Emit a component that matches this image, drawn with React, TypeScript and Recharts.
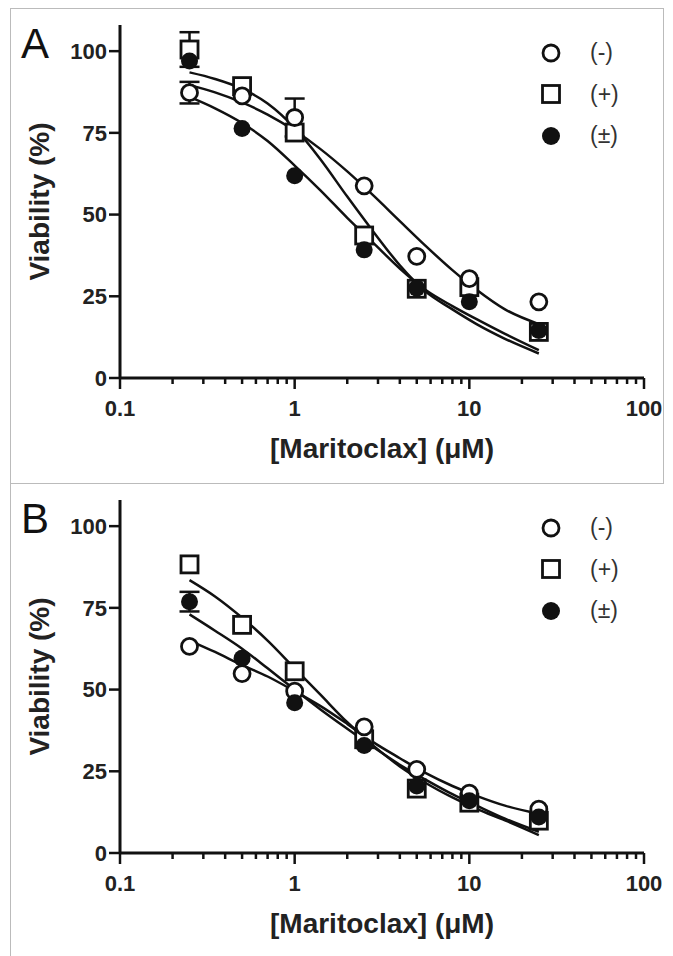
import React from 'react';
import { ComposedChart, Line, Scatter, XAxis, YAxis, ErrorBar } from 'recharts';

// doses (µM)
const doses = [0.25, 0.5, 1, 2.5, 5, 10, 25];

// panel A, measured viability (%)
const aMinus = [87.3, 86.3, 79.7, 58.8, 37.2, 30.4, 23.3];
const aPlus = [100.5, 89.3, 75.1, 43.6, 27.3, 27.8, 14.1];
const aPm = [97, 76.3, 61.9, 39.2, 27.5, 23.3, 14.5];
const aMinusErr = [3.3, 0, 5.8, 0, 0, 0, 0];
const aPlusErr = [5.3, 0, 0, 0, 0, 0, 0];
const aPmErr = [0, 0, 0, 0, 0, 0, 0];

// panel B, measured viability (%)
const bMinus = [63.2, 54.9, 49.5, 38.6, 25.6, 18.3, 13.4];
const bPlus = [88.3, 69.8, 55.6, 34.8, 19.7, 15.4, 9.9];
const bPm = [76.9, 59.6, 46, 32.9, 20.5, 16, 11];
const bMinusErr = [0, 0, 0, 0, 0, 0, 0];
const bPlusErr = [0, 0, 0, 0, 0, 0, 0];
const bPmErr = [3, 0, 0, 0, 0, 0, 0];

// fitted curves
const fitX = [0.25, 0.35, 0.5, 0.7, 1, 1.4, 2, 2.8, 4, 5.6, 8, 11, 16, 25];
const aMinusFit = [89.6, 87.4, 84.3, 80.6, 75.7, 70.1, 63.2, 56, 48, 40.5, 33, 27, 21, 16.5];
const aPlusFit = [93.5, 91.5, 88.5, 84, 76.5, 67, 55.5, 45, 34.5, 26.5, 21, 16.5, 12, 7.5];
const aPmFit = [86, 82.5, 78, 72.5, 65, 57.5, 49, 41.5, 33.5, 27, 22, 18, 13.5, 8.5];
const bMinusFit = [65, 61.5, 57.5, 54, 49.5, 45, 39.5, 34, 29, 24.5, 20.5, 17.5, 14.5, 12];
const bPlusFit = [83.5, 78.5, 72, 65, 56.5, 48.5, 40, 33, 26.5, 21.5, 17, 13.5, 10, 5.5];
const bPmFit = [73, 68, 62.5, 56.5, 50, 44, 38, 32.5, 27, 22.5, 18, 14.5, 10.5, 6.5];

const xMajor = [0.1, 1, 10, 100];
const xMinor = [0.2, 0.3, 0.4, 0.5, 0.6, 0.7, 0.8, 0.9, 2, 3, 4, 5, 6, 7, 8, 9, 20, 30, 40, 50, 60, 70, 80, 90];
const yTicks = [0, 25, 50, 75, 100];
const legendLabels = ['(-)', '(+)', '(±)'];

const FONT = '"Liberation Sans", Arial, sans-serif';
const INK = '#111';

const pts = (xs: number[], ys: number[], errs?: number[]) =>
  xs.map((x, i) => ({ x, y: ys[i], err: errs ? errs[i] : 0 }));

const OpenCircle = (p: any) => (
  <circle cx={p.cx} cy={p.cy} r={8} fill="#fff" stroke={INK} strokeWidth={2.8} />
);
const OpenSquare = (p: any) => (
  <rect x={p.cx - 8.5} y={p.cy - 8.5} width={17} height={17} fill="#fff" stroke={INK} strokeWidth={2.8} />
);
const FilledCircle = (p: any) => <circle cx={p.cx} cy={p.cy} r={8.5} fill={INK} />;
const Nothing = () => <g />;

const XTick = (props: any) => {
  const { x, y, payload } = props;
  const major = xMajor.includes(payload.value);
  return (
    <g>
      <line x1={x} x2={x} y1={y} y2={y + (major ? 11 : 6)} stroke={INK} strokeWidth={2.5} />
      {major && (
        <text x={x} y={y + 38} textAnchor="middle" fontFamily={FONT} fontWeight="bold" fontSize={22} fill="#222">
          {payload.value}
        </text>
      )}
    </g>
  );
};

type Panel = {
  letter: string;
  minus: number[]; plus: number[]; pm: number[];
  minusErr: number[]; plusErr: number[]; pmErr: number[];
  minusFit: number[]; plusFit: number[]; pmFit: number[];
};

const panels: Panel[] = [
  { letter: 'A', minus: aMinus, plus: aPlus, pm: aPm, minusErr: aMinusErr, plusErr: aPlusErr, pmErr: aPmErr,
    minusFit: aMinusFit, plusFit: aPlusFit, pmFit: aPmFit },
  { letter: 'B', minus: bMinus, plus: bPlus, pm: bPm, minusErr: bMinusErr, plusErr: bPlusErr, pmErr: bPmErr,
    minusFit: bMinusFit, plusFit: bPlusFit, pmFit: bPmFit },
];

const LegendBox = () => {
  const symbols = [
    <circle cx={12} cy={12} r={8} fill="#fff" stroke={INK} strokeWidth={2.8} />,
    <rect x={3.5} y={3.5} width={17} height={17} fill="#fff" stroke={INK} strokeWidth={2.8} />,
    <circle cx={12} cy={12} r={9} fill={INK} />,
  ];
  return (
    <div style={{ position: 'absolute', left: 528, top: 23 }}>
      {legendLabels.map((l, i) => (
        <div key={l} style={{ display: 'flex', alignItems: 'center', height: 41.5 }}>
          <svg width={24} height={24}>{symbols[i]}</svg>
          <span style={{ marginLeft: 27, fontFamily: FONT, fontSize: 23, color: '#333' }}>{l}</span>
        </div>
      ))}
    </div>
  );
};

const ChartPanel = ({ p }: { p: Panel }) => {
  const errFilter = (ys: number[], es: number[]) => pts(doses, ys, es).filter((d) => d.err > 0);
  return (
    <div style={{ position: 'relative', width: 652, height: 473 }}>
      <ComposedChart width={652} height={473} margin={{ top: 16, right: 19, bottom: 0, left: 0 }}>
        <XAxis
          dataKey="x"
          type="number"
          scale="log"
          domain={[0.1, 100]}
          allowDataOverflow
          ticks={[...xMajor, ...xMinor]}
          interval={0}
          tickSize={0}
          tickMargin={0}
          tickLine={false}
          tick={<XTick />}
          axisLine={{ stroke: INK, strokeWidth: 3 }}
          height={104}
          label={{
            value: '[Maritoclax] (\u03bcM)',
            position: 'insideBottom',
            offset: 24,
            style: { fontFamily: FONT, fontWeight: 'bold', fontSize: 28, fill: '#222' },
          }}
        />
        <YAxis
          dataKey="y"
          type="number"
          domain={[0, 108]}
          allowDataOverflow
          ticks={yTicks}
          interval={0}
          width={109}
          tickSize={11}
          tickMargin={2}
          tickLine={{ stroke: INK, strokeWidth: 2.5 }}
          axisLine={{ stroke: INK, strokeWidth: 3 }}
          tick={{ fontFamily: FONT, fontWeight: 'bold', fontSize: 22, fill: '#222' }}
          label={{
            value: 'Viability (%)',
            angle: -90,
            position: 'insideLeft',
            offset: 28,
            style: { textAnchor: 'middle', fontFamily: FONT, fontWeight: 'bold', fontSize: 28, fill: '#222' },
          }}
        />
        <Line data={pts(fitX, p.minusFit)} dataKey="y" type="monotone" stroke={INK} strokeWidth={2.5} dot={false} isAnimationActive={false} />
        <Line data={pts(fitX, p.plusFit)} dataKey="y" type="monotone" stroke={INK} strokeWidth={2.5} dot={false} isAnimationActive={false} />
        <Line data={pts(fitX, p.pmFit)} dataKey="y" type="monotone" stroke={INK} strokeWidth={2.5} dot={false} isAnimationActive={false} />
        <Scatter data={errFilter(p.plus, p.plusErr)} dataKey="y" shape={Nothing} isAnimationActive={false}>
          <ErrorBar dataKey="err" direction="y" width={10} stroke={INK} strokeWidth={2.5} />
        </Scatter>
        <Scatter data={errFilter(p.minus, p.minusErr)} dataKey="y" shape={Nothing} isAnimationActive={false}>
          <ErrorBar dataKey="err" direction="y" width={10} stroke={INK} strokeWidth={2.5} />
        </Scatter>
        <Scatter data={errFilter(p.pm, p.pmErr)} dataKey="y" shape={Nothing} isAnimationActive={false}>
          <ErrorBar dataKey="err" direction="y" width={10} stroke={INK} strokeWidth={2.5} />
        </Scatter>
        <Scatter data={pts(doses, p.plus)} dataKey="y" shape={OpenSquare} isAnimationActive={false} />
        <Scatter data={pts(doses, p.minus)} dataKey="y" shape={OpenCircle} isAnimationActive={false} />
        <Scatter data={pts(doses, p.pm)} dataKey="y" shape={FilledCircle} isAnimationActive={false} />
      </ComposedChart>
      <div style={{ position: 'absolute', left: 10, top: 14, fontFamily: FONT, fontSize: 42, color: '#111', lineHeight: 1 }}>
        {p.letter}
      </div>
      <LegendBox />
    </div>
  );
};

export default function App() {
  return (
    <div style={{ marginLeft: 2, width: 654 }}>
      <div style={{ borderTop: '1px solid #bbb', borderLeft: '1px solid #bbb', borderRight: '1px solid #bbb', height: 474 }}>
        <ChartPanel p={panels[0]} />
      </div>
      <div style={{ borderTop: '1px solid #bbb', borderLeft: '1px solid #bbb', height: 473 }}>
        <ChartPanel p={panels[1]} />
      </div>
    </div>
  );
}
